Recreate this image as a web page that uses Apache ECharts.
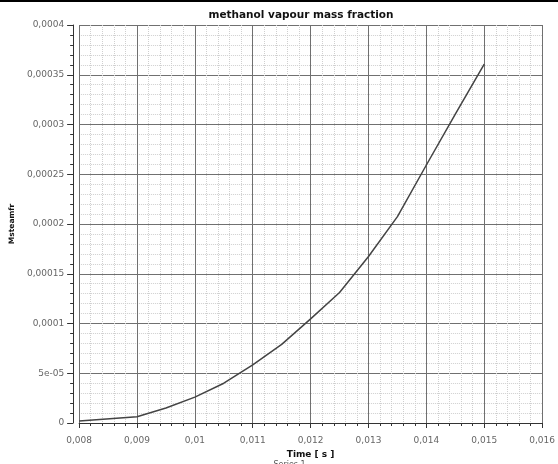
<!DOCTYPE html>
<html>
<head>
<meta charset="utf-8">
<script src="https://cdn.jsdelivr.net/npm/echarts@6/dist/echarts.min.js"></script>
<style>html,body{margin:0;padding:0;background:#fff}#c{width:558px;height:464px}</style>
</head>
<body>
<div id="c"></div>
<script>
const timeValues = [0.008, 0.009, 0.0095, 0.01, 0.0105, 0.011, 0.0115, 0.012, 0.0125, 0.013, 0.0135, 0.014, 0.0145, 0.015];
const massFraction = [0.000002, 0.0000063, 0.000015, 0.000026, 0.00004, 0.0000585, 0.000079, 0.0001047, 0.0001311, 0.0001673, 0.0002074, 0.0002593, 0.0003105, 0.0003607];
const xTickLabels = ['0,008','0,009','0,01','0,011','0,012','0,013','0,014','0,015','0,016'];
const yTickLabels = ['0','5e-05','0,0001','0,00015','0,0002','0,00025','0,0003','0,00035','0,0004'];
const seriesName = 'Series 1';

const chart = echarts.init(document.getElementById('c'));
const font = 'DejaVu Sans';
chart.setOption({
  animation: false,
  backgroundColor: '#fff',
  title: {
    text: 'methanol vapour mass fraction',
    left: 296, textAlign: 'center', top: 5,
    textStyle: {fontFamily: font, fontSize: 10.5, fontWeight: 'bold', color: '#111'}
  },
  legend: {
    data: [seriesName], left: 'center', top: 456, itemWidth: 16, itemHeight: 2, itemGap: 6,
    icon: 'rect',
    textStyle: {fontFamily: font, fontSize: 8, color: '#555'}
  },
  graphic: [{type: 'rect', shape: {x: 0, y: 0, width: 558, height: 2}, style: {fill: '#000'}}],
  grid: {left: 76, right: 12, top: 25, bottom: 41, containLabel: false},
  xAxis: {
    type: 'value', min: 0.008, max: 0.016, interval: 0.001, offset: 6,
    name: 'Time [ s ]', nameLocation: 'middle', nameGap: 18,
    nameTextStyle: {fontFamily: font, fontSize: 9, fontWeight: 'bold', color: '#111'},
    axisLine: {show: true, lineStyle: {color: '#333', width: 1}},
    axisTick: {show: true, length: 5, lineStyle: {color: '#333'}},
    minorTick: {show: true, splitNumber: 5, length: 3, lineStyle: {color: '#333'}},
    axisLabel: {fontFamily: font, fontSize: 9, color: '#666', margin: 7,
      formatter: v => xTickLabels[Math.round((v - 0.008) / 0.001)]},
    splitLine: {show: true, lineStyle: {color: '#707070', width: 1}},
    minorSplitLine: {show: true, lineStyle: {color: '#cfcfcf', width: 1, type: 'dotted'}}
  },
  yAxis: {
    type: 'value', min: 0, max: 0.0004, interval: 0.00005, offset: 6,
    name: 'Msteamfr', nameLocation: 'middle', nameGap: 47, nameRotate: 90,
    nameTextStyle: {fontFamily: font, fontSize: 7.5, fontWeight: 'bold', color: '#111'},
    axisLine: {show: true, lineStyle: {color: '#333', width: 1}},
    axisTick: {show: true, length: 6, lineStyle: {color: '#333'}},
    minorTick: {show: true, splitNumber: 5, length: 3, lineStyle: {color: '#333'}},
    axisLabel: {fontFamily: font, fontSize: 9, color: '#666', margin: 9,
      formatter: v => yTickLabels[Math.round(v / 0.00005)]},
    splitLine: {show: true, lineStyle: {color: '#707070', width: 1}},
    minorSplitLine: {show: true, lineStyle: {color: '#cfcfcf', width: 1, type: 'dotted'}}
  },
  series: [{
    name: seriesName, type: 'line', showSymbol: false, smooth: false,
    data: timeValues.map((t, i) => [t, massFraction[i]]),
    lineStyle: {color: '#444', width: 1.5}, itemStyle: {color: '#444'}
  }]
});
</script>
</body>
</html>
